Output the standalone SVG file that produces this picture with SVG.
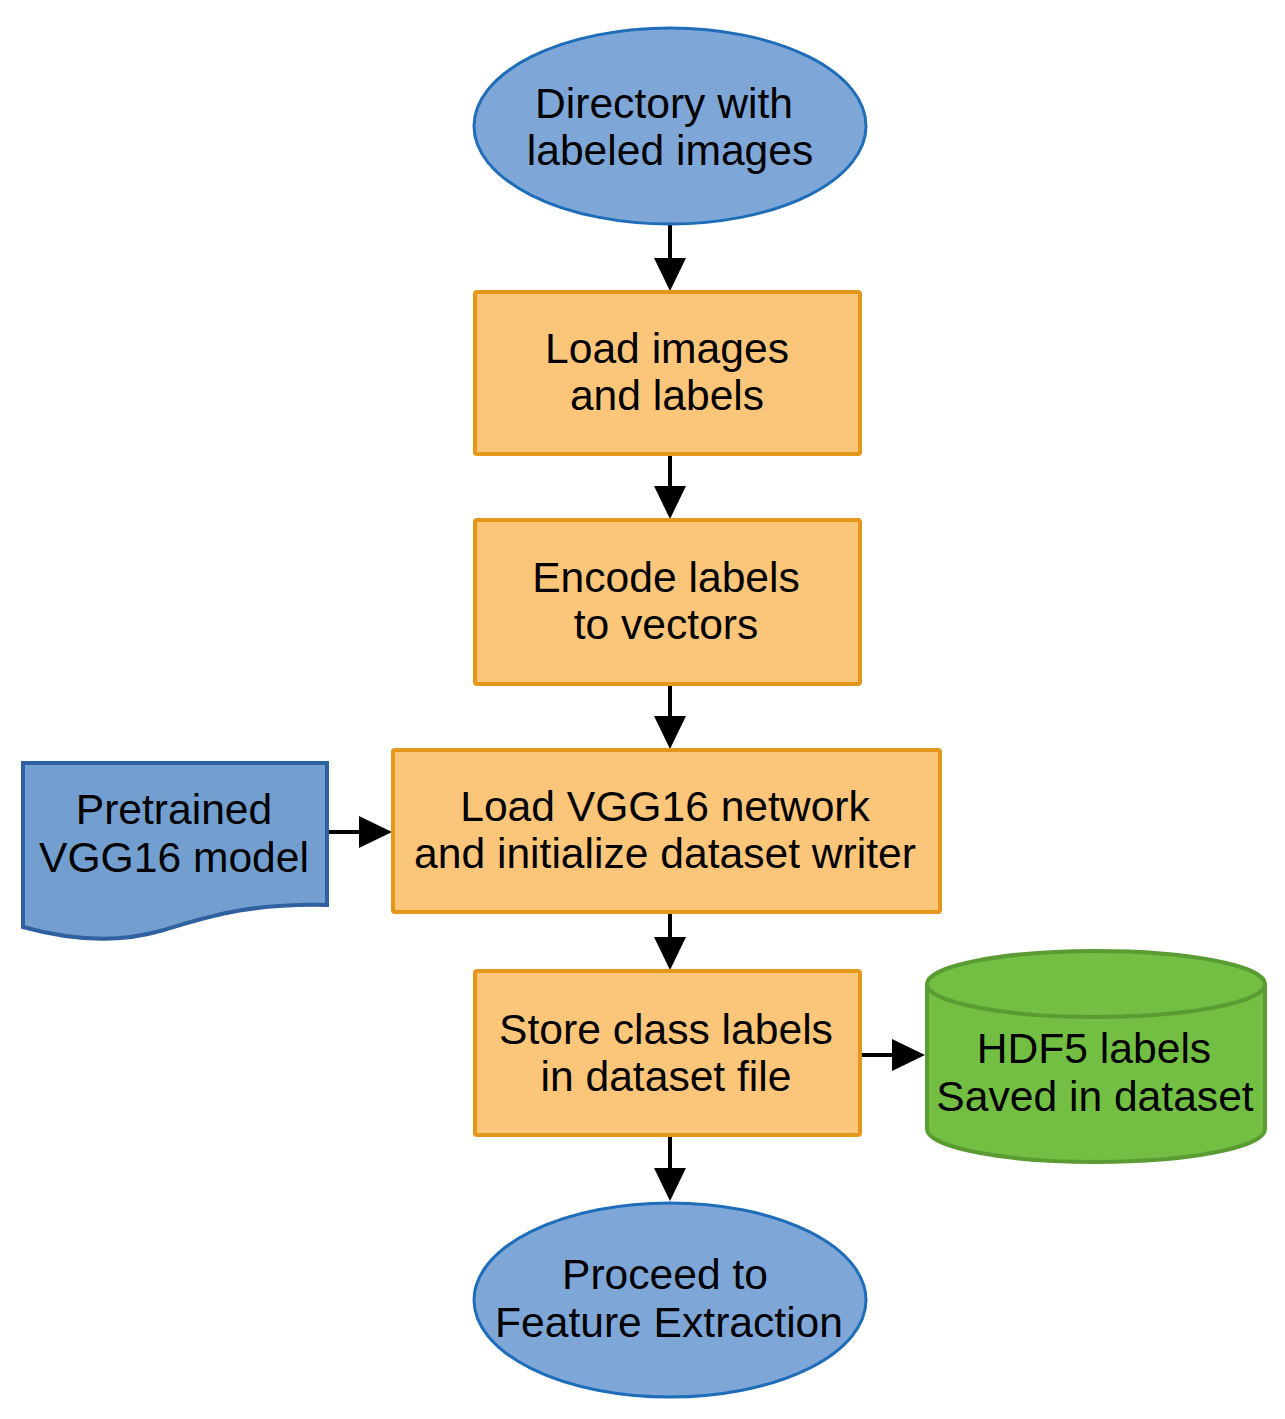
<svg xmlns="http://www.w3.org/2000/svg" width="1285" height="1419" viewBox="0 0 1285 1419">
<style>
.t{font-family:"Liberation Sans",Arial,sans-serif;font-size:42.6px;fill:#000;text-anchor:middle}
.oval{fill:#7ea7d8;stroke:#1f6db8;stroke-width:3}
.box{fill:#fcc67a;stroke:#e3981c;stroke-width:4}
.doc{fill:#729fcf;stroke:#2f609f;stroke-width:4}
.cyl{fill:#72bf44;stroke:#5a9b33;stroke-width:4}
.c{stroke:#000;stroke-width:4;fill:none;marker-end:url(#ah)}
</style>
<defs>
<marker id="ah" markerWidth="33" markerHeight="32" refX="1" refY="16" orient="auto" markerUnits="userSpaceOnUse" viewBox="0 0 33 32">
<path d="M0,0 L33,16 L0,32 Z" fill="#000"/>
</marker>
</defs>
<rect width="1285" height="1419" fill="#fff"/>
<g id="connectors">
<line class="c" x1="670" y1="224" x2="670" y2="259"/>
<line class="c" x1="670" y1="454" x2="670" y2="487"/>
<line class="c" x1="670" y1="684" x2="670" y2="717"/>
<line class="c" x1="670" y1="912" x2="670" y2="938"/>
<line class="c" x1="670" y1="1135" x2="670" y2="1169"/>
<line class="c" x1="327" y1="832" x2="360" y2="832"/>
<line class="c" x1="860" y1="1055" x2="893" y2="1055"/>
</g>
<g id="start">
<ellipse class="oval" cx="670" cy="126" rx="196" ry="98"/>
<text class="t" x="664" y="118">Directory with</text>
<text class="t" x="670" y="165">labeled images</text>
</g>
<g id="load-images">
<rect class="box" x="475" y="292" width="385" height="162" rx="2"/>
<text class="t" x="667" y="363">Load images</text>
<text class="t" x="667" y="410">and labels</text>
</g>
<g id="encode">
<rect class="box" x="475" y="520" width="385" height="164" rx="2"/>
<text class="t" x="666" y="592">Encode labels</text>
<text class="t" x="666" y="639">to vectors</text>
</g>
<g id="load-vgg">
<rect class="box" x="393" y="750" width="547" height="162" rx="2"/>
<text class="t" x="665" y="821">Load VGG16 network</text>
<text class="t" x="665" y="868">and initialize dataset writer</text>
</g>
<g id="pretrained">
<path class="doc" d="M23,763 H327 V905 C245,903 205,918 160,931 C118,943 70,940 23,927 Z"/>
<text class="t" x="174" y="824">Pretrained</text>
<text class="t" x="174" y="872">VGG16 model</text>
</g>
<g id="store">
<rect class="box" x="475" y="971" width="385" height="164" rx="2"/>
<text class="t" x="666" y="1044">Store class labels</text>
<text class="t" x="666" y="1091">in dataset file</text>
</g>
<g id="hdf5">
<path class="cyl" d="M927,984 V1129 A169,33 0 0 0 1265,1129 V984"/>
<ellipse class="cyl" cx="1096" cy="984" rx="169" ry="33"/>
<text class="t" x="1094" y="1063">HDF5 labels</text>
<text class="t" x="1095" y="1111">Saved in dataset</text>
</g>
<g id="end">
<ellipse class="oval" cx="670" cy="1300" rx="196" ry="97"/>
<text class="t" x="665" y="1289">Proceed to</text>
<text class="t" x="669" y="1337">Feature Extraction</text>
</g>
</svg>
